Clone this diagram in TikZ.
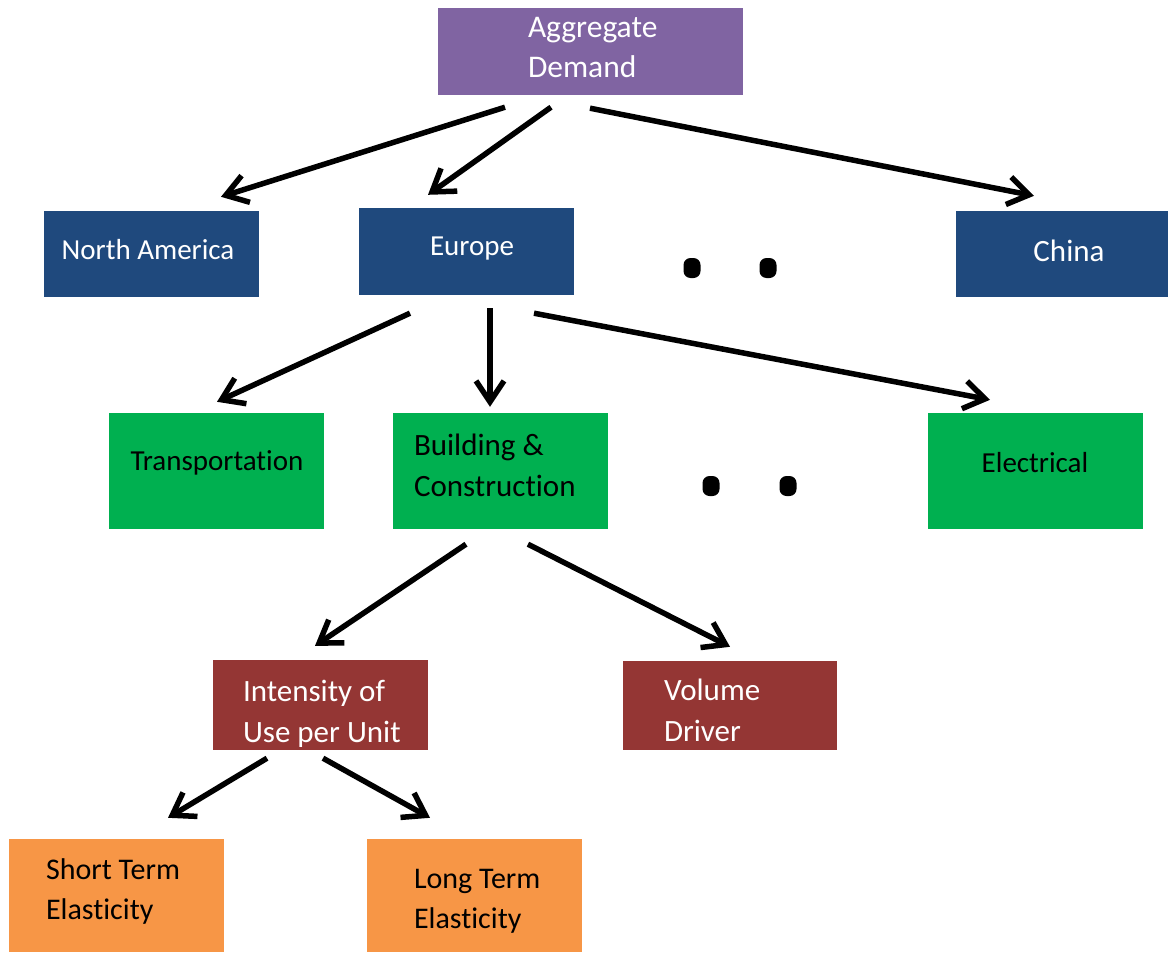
\documentclass[tikz,border=0pt]{standalone}
\usepackage{fontspec}
\setmainfont{Carlito}[Ligatures=NoCommon]
\usetikzlibrary{arrows.meta}

\definecolor{aggpurple}{HTML}{8064A2}
\definecolor{regionblue}{HTML}{1F497D}
\definecolor{sectorgreen}{HTML}{00B050}
\definecolor{driverred}{HTML}{943634}
\definecolor{elastorange}{HTML}{F79646}

\begin{document}
\begin{tikzpicture}[x=1pt,y=-1pt]
\tikzstyle{every node}+=[inner sep=0pt]
\tikzstyle{box}=[rectangle, minimum width=215pt, minimum height=87pt]
\tikzstyle{one}=[anchor=base, font=\fontsize{29}{36}\selectfont]
\tikzstyle{lbl}=[anchor=base west, align=left, font=\fontsize{31}{41}\selectfont]
\tikzstyle{arr}=[line width=5.5pt, -{Straight Barb[length=21pt,width=28pt]}]
\tikzstyle{dotmark}=[rectangle, fill=black, minimum width=17pt, minimum height=20pt, rounded corners=7pt]
\useasboundingbox (0,0) rectangle (1168,953);
% top
\node [box, fill=aggpurple, minimum width=305pt] (agg) at (590.5,51.5) {};
\node [lbl, text=white, font=\fontsize{31.5}{40}\selectfont] (aggT) at ([shift={(90,70)}]agg.north west) {Aggregate\\Demand};
% regions
\node [box, fill=regionblue, minimum height=86pt] (na) at (151.5,254) {};
\node [one, text=white] (naT) at ([shift={(-3.5,5)}]na.center) {North America};
\node [box, fill=regionblue] (eu) at (466.5,251.5) {};
\node [one, text=white] (euT) at ([shift={(5.5,3.5)}]eu.center) {Europe};
\node [box, fill=regionblue, minimum width=212pt, minimum height=86pt] (cn) at (1062,254) {};
\node [one, text=white, font=\fontsize{31}{36}\selectfont] (cnT) at ([shift={(7,7)}]cn.center) {China};
\node [dotmark] (d1) at (692,268) {};
\node [dotmark] (d2) at (768,268) {};
% sectors
\node [box, fill=sectorgreen, minimum height=116pt] (tr) at (216.5,471) {};
\node [one] (trT) at ([shift={(0.5,-1)}]tr.center) {Transportation};
\node [box, fill=sectorgreen, minimum height=116pt] (bc) at (500.5,471) {};
\node [lbl] (bcT) at ([shift={(21,84)}]bc.north west) {Building \&\\Construction};
\node [box, fill=sectorgreen, minimum height=116pt] (el) at (1035.5,471) {};
\node [one] (elT) at ([shift={(-0.5,1)}]el.center) {Electrical};
\node [dotmark] (d3) at (711,486) {};
\node [dotmark] (d4) at (788,486) {};
% drivers
\node [box, fill=driverred, minimum height=90pt] (iu) at (320.5,705) {};
\node [lbl, text=white] (iuT) at ([shift={(30,83)}]iu.north west) {Intensity of\\Use per Unit};
\node [box, fill=driverred, minimum width=214pt, minimum height=89pt] (vd) at (730,705.5) {};
\node [lbl, text=white] (vdT) at ([shift={(41,81)}]vd.north west) {Volume\\Driver};
% elasticities
\node [box, fill=elastorange, minimum height=113pt] (st) at (116.5,895.5) {};
\node [lbl, font=\fontsize{30}{40}\selectfont] (stT) at ([shift={(37,81)}]st.north west) {Short Term\\Elasticity};
\node [box, fill=elastorange, minimum height=113pt] (lt) at (474.5,895.5) {};
\node [lbl, font=\fontsize{30}{40}\selectfont] (ltT) at ([shift={(47,90)}]lt.north west) {Long Term\\Elasticity};
% arrows
\draw [arr] ([shift={(-85.5,12)}]agg.south) -- ([shift={(69.5,-14)}]na.north);
\draw [arr] ([shift={(-39.5,12)}]agg.south) -- ([shift={(-38.5,-13)}]eu.north);
\draw [arr] ([shift={(-0.5,13)}]agg.south) -- ([shift={(-28,-15)}]cn.north);
\draw [arr] ([shift={(-56.5,18)}]eu.south) -- ([shift={(0.5,-11)}]tr.north);
\draw [arr] ([shift={(23.5,13)}]eu.south) -- ([shift={(-10.5,-6)}]bc.north);
\draw [arr] ([shift={(67.5,18)}]eu.south) -- ([shift={(-45.5,-13)}]el.north);
\draw [arr] ([shift={(-34.5,15)}]bc.south) -- ([shift={(-5.5,-14)}]iu.north);
\draw [arr] ([shift={(27.5,15)}]bc.south) -- ([shift={(0,-14)}]vd.north);
\draw [arr] ([shift={(-53.5,8)}]iu.south) -- ([shift={(51.5,-21)}]st.north);
\draw [arr] ([shift={(2.5,8)}]iu.south) -- ([shift={(-44.5,-21)}]lt.north);
\end{tikzpicture}
\end{document}
